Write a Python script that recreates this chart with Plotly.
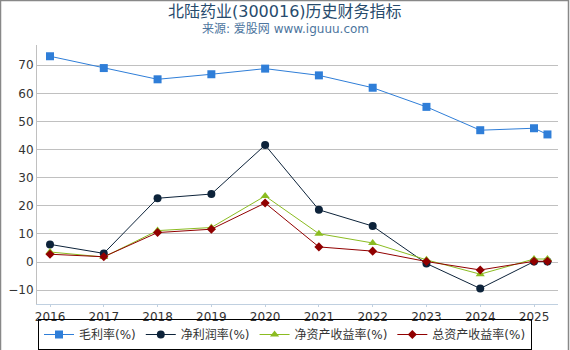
import plotly.graph_objects as go

years = [2016, 2017, 2018, 2019, 2020, 2021, 2022, 2023, 2024, 2025, 2025.25]
gross_margin = [73.2, 69.0, 65.0, 66.8, 68.8, 66.4, 62.0, 55.2, 46.9, 47.6, 45.4]
net_margin = [6.3, 3.1, 22.7, 24.2, 41.6, 18.6, 12.8, -0.5, -9.4, 0.2, 0.2]
roe = [3.6, 1.8, 11.2, 12.3, 23.5, 10.1, 6.8, 0.8, -4.3, 1.1, 1.1]
roa = [2.8, 1.9, 10.5, 11.7, 21.0, 5.4, 3.9, 0.2, -2.8, 0.3, 0.3]
tick_years = [2016, 2017, 2018, 2019, 2020, 2021, 2022, 2023, 2024, 2025]
y_ticks = [-10, 0, 10, 20, 30, 40, 50, 60, 70]

series = [
    ("毛利率(%)", gross_margin, "#2f7ed8", "square"),
    ("净利润率(%)", net_margin, "#0d233a", "circle"),
    ("净资产收益率(%)", roe, "#8bbc21", "triangle-up"),
    ("总资产收益率(%)", roa, "#910000", "diamond"),
]

fig = go.Figure()
for name, vals, color, sym in series:
    fig.add_trace(go.Scatter(
        x=years, y=vals, name=name, mode="lines+markers",
        line=dict(color=color, width=1),
        marker=dict(color=color, symbol=sym, size=8 if sym != "diamond" else 7,
                    line=dict(width=0)),
    ))

FONT = "DejaVu Sans, Noto Sans CJK SC, sans-serif"
W, H = 570, 350
ml, mr, mt, mb = 37, 12, 45, 46
pw, ph = W - ml - mr, H - mt - mb

fig.update_layout(
    width=W, height=H,
    margin=dict(l=ml, r=mr, t=mt, b=mb, autoexpand=False),
    paper_bgcolor="white", plot_bgcolor="white",
    font=dict(family=FONT, color="#606060", size=12),
    xaxis=dict(
        range=[2015.758, 2025.446], tickvals=tick_years, ticktext=[str(y) for y in tick_years],
        showgrid=False, showline=True, linecolor="#c0d0e0", linewidth=1,
        ticks="outside", tickcolor="#c0d0e0", ticklen=2, zeroline=False,
        tickfont=dict(size=12, color="#333333"),
    ),
    yaxis=dict(
        range=[-14.9, 77.2], tickvals=y_ticks,
        showgrid=True, gridcolor="#c0c0c0", gridwidth=1,
        showline=True, linecolor="#c0c0c0", linewidth=1, zeroline=False,
        tickfont=dict(size=12, color="#333333"), ticks="",
    ),
    legend=dict(
        orientation="h", x=0.5, xref="container", xanchor="center",
        y=0.0, yref="container", yanchor="bottom",
        bordercolor="black", borderwidth=1, font=dict(size=12, color="#333333"),
        itemwidth=30, tracegroupgap=0, bgcolor="rgba(255,255,255,0)",
    ),
    showlegend=True,
)

fig.add_annotation(text="北陆药业(300016)历史财务指标", xref="paper", yref="paper",
                   x=0.5 - (ml - mr) / 2 / pw, y=1 + (mt - 11) / ph, xanchor="center", yanchor="middle",
                   showarrow=False, font=dict(size=16, color="#274b6d", family=FONT))
fig.add_annotation(text="来源: 爱股网 www.iguuu.com", xref="paper", yref="paper",
                   x=0.5 - (ml - mr) / 2 / pw, y=1 + (mt - 29) / ph, xanchor="center", yanchor="middle",
                   showarrow=False, font=dict(size=12, color="#4d759e", family=FONT))

# outer frame
fig.add_shape(type="rect", xref="paper", yref="paper",
              x0=(-ml + 0.5) / pw, x1=1 + (mr - 1.5) / pw,
              y0=-(mb + 10) / ph, y1=1 + (mt - 0.5) / ph,
              line=dict(color="#888888", width=1.5), layer="below")

fig.write_html("out.html")
